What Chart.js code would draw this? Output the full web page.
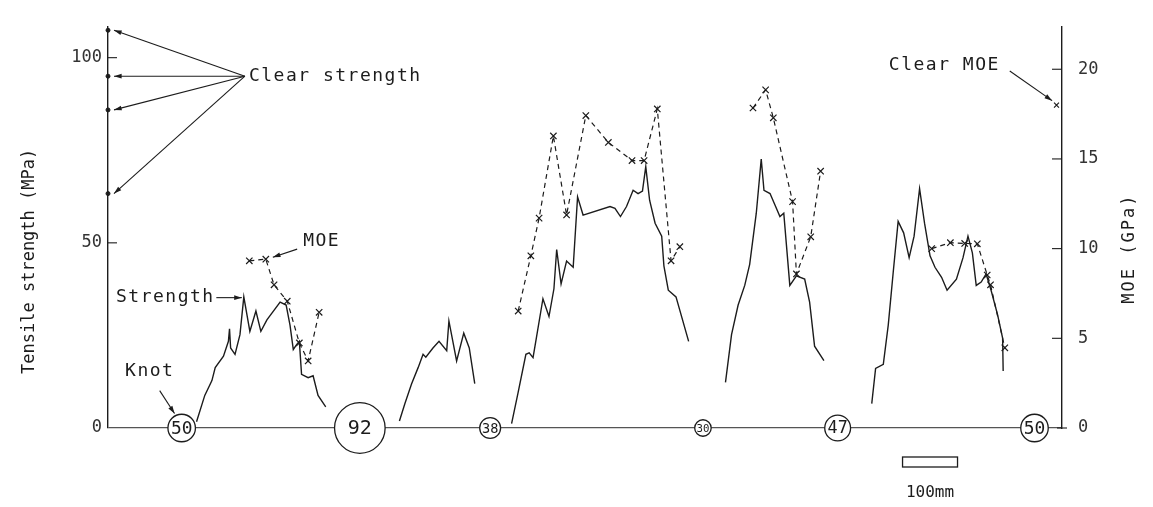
<!DOCTYPE html>
<html lang="en">
<head>
<meta charset="utf-8">
<title>Tensile strength and MOE along a board</title>
<script src="https://cdn.jsdelivr.net/npm/chart.js@4.4.1/dist/chart.umd.min.js"></script>
<style>
  html, body { margin: 0; padding: 0; background: #fff; }
  #wrap { width: 1153px; height: 507px; }
</style>
</head>
<body>
<div id="wrap"><canvas id="chart"></canvas></div>
<script>
// position along the board (mm) with tensile strength (MPa)
const strength1 = [[161,1.7],[176,8.8],[189,12.8],[195,16.3],[210,19.4],[219,23.4],[221,26.8],[223,21.6],[231,19.9],[240,25.2],[247,35.4],[258,26.1],[269,31.6],[278,26.1],[289,29.2],[313,34.0],[324,33.2],[331,27.8],[337,21.2],[343,22.5],[348,23.4],[352,14.5],[364,13.6],[373,14.1],[382,8.8],[396,5.7]];
const strength2 = [[530,1.9],[540,6.6],[552,11.9],[564,16.3],[573,19.9],[578,19.1],[591,21.6],[602,23.4],[616,20.9],[620,28.9],[634,18.1],[647,25.6],[657,21.6],[667,12.0]];
const strength3 = [[734,1.2],[746,9.7],[760,19.9],[766,20.3],[773,19.0],[779,24.3],[791,34.9],[802,30.1],[811,37.6],[816,48.2],[824,38.9],[834,45.1],[846,43.4],[854,62.4],[864,57.5],[913,59.8],[922,59.3],[932,57.1],[943,59.8],[955,64.2],[964,63.3],[972,64.0],[978,70.6],[985,61.5],[995,55.3],[1007,51.8],[1011,43.8],[1019,37.2],[1033,35.4],[1056,23.4]];
const strength4 = [[1123,12.3],[1134,25.2],[1146,33.2],[1158,38.5],[1167,44.2],[1179,58.0],[1188,72.6],[1193,64.2],[1204,63.3],[1213,60.2],[1222,57.1],[1229,58.0],[1234,49.1],[1240,38.5],[1252,41.1],[1267,40.2],[1276,34.0],[1285,22.1],[1302,18.2]];
const strength5 = [[1389,6.6],[1396,16.1],[1410,17.2],[1419,27.8],[1428,42.0],[1437,55.8],[1447,52.7],[1457,46.0],[1466,51.8],[1476,64.6],[1485,55.3],[1495,46.5],[1504,43.4],[1516,40.7],[1526,37.2],[1543,40.2],[1555,46.0],[1564,51.8],[1572,47.3],[1579,38.5],[1588,39.4],[1597,41.6],[1606,37.2],[1618,30.5],[1627,24.3],[1628,15.4]];

// position (mm) with MOE (GPa)
const moe1 = [[257,9.32],[287,9.41],[302,7.98],[326,7.07],[348,4.74],[364,3.74],[384,6.45]];
const moe3 = [[746,6.52],[769,9.60],[784,11.70],[810,16.28],[834,11.88],[869,17.42],[910,15.92],[953,14.91],[975,14.91],[999,17.79],[1024,9.32],[1040,10.11]];
const moe4 = [[1173,17.84],[1196,18.85],[1210,17.29],[1245,12.62],[1252,8.59],[1278,10.66],[1296,14.32]];
const moe5 = [[1498,10.0],[1532,10.33],[1558,10.29],[1581,10.27],[1599,8.53],[1605,7.98],[1631,4.47]];

const clearStrength = [107.4, 95.0, 85.9, 63.3];
const clearMOE = 18.0;

// knots: centre position (mm) and diameter (mm)
const knotPos = [134, 458, 695, 1082, 1327, 1685];
const knotSize = [50, 92, 38, 30, 47, 50];

const leftTicks = [0, 50, 100];
const rightTicks = [0, 5, 10, 15, 20];

const INK = '#1c1c1c';
const MONO = '"DejaVu Sans Mono", monospace';

const toXY = arr => arr.map(p => ({x: p[0], y: p[1]}));

function strengthSet(arr) {
  return { data: toXY(arr), yAxisID: 'y', borderColor: INK, borderWidth: 1.4, pointRadius: 0, tension: 0, fill: false };
}
function moeSet(arr) {
  return { data: toXY(arr), yAxisID: 'y1', borderColor: INK, borderWidth: 1.2, borderDash: [5, 4],
           pointStyle: 'crossRot', pointRadius: 4.5, pointBorderWidth: 1.2, pointBorderColor: INK, tension: 0, fill: false };
}

function knotRadius(ctx) {
  const sx = ctx.chart.scales.x;
  const d = knotSize[ctx.dataIndex] || 0;
  return Math.abs(sx.getPixelForValue(d / 2) - sx.getPixelForValue(0));
}

function arrow(c, x1, y1, x2, y2) {
  c.beginPath();
  c.moveTo(x1, y1);
  c.lineTo(x2, y2);
  c.stroke();
  const a = Math.atan2(y2 - y1, x2 - x1);
  c.beginPath();
  c.moveTo(x2, y2);
  c.lineTo(x2 - 8 * Math.cos(a - 0.3), y2 - 8 * Math.sin(a - 0.3));
  c.lineTo(x2 - 8 * Math.cos(a + 0.3), y2 - 8 * Math.sin(a + 0.3));
  c.closePath();
  c.fill();
}

const notes = {
  id: 'notes',
  afterDatasetsDraw(chart) {
    const c = chart.ctx;
    const xs = chart.scales.x, ys = chart.scales.y;
    c.save();
    c.fillStyle = INK;
    c.textAlign = 'center';
    c.textBaseline = 'middle';
    knotPos.forEach((p, i) => {
      const r = Math.abs(xs.getPixelForValue(knotSize[i] / 2) - xs.getPixelForValue(0));
      c.font = Math.min(20, r * 1.3).toFixed(1) + 'px ' + MONO;
      c.fillText(String(knotSize[i]), xs.getPixelForValue(p), ys.getPixelForValue(0) + 1);
    });
    c.restore();
  },
  afterDraw(chart) {
    const c = chart.ctx;
    const area = chart.chartArea;
    const X = v => chart.scales.x.getPixelForValue(v);
    const Y = v => chart.scales.y.getPixelForValue(v);
    const Y1 = v => chart.scales.y1.getPixelForValue(v);
    c.save();
    c.strokeStyle = INK;
    c.fillStyle = INK;
    c.lineWidth = 1.1;

    // inward tick marks
    leftTicks.forEach(v => { if (v) { c.beginPath(); c.moveTo(area.left, Y(v)); c.lineTo(area.left + 9, Y(v)); c.stroke(); } });
    rightTicks.forEach(v => { c.beginPath(); c.moveTo(area.right - (v ? 10 : 5), Y1(v)); c.lineTo(area.right + (v ? 0 : 5), Y1(v)); c.stroke(); });

    c.font = '18px ' + MONO;
    c.letterSpacing = '1.5px';
    c.textBaseline = 'middle';

    // clear strength
    const cx = X(249), cy = Y(95);
    c.textAlign = 'left';
    c.fillText('Clear strength', cx + 4, cy);
    clearStrength.forEach(v => arrow(c, cx, cy, X(0) + 6, Y(v)));

    // MOE
    c.fillText('MOE', X(355), Y(50.5));
    arrow(c, X(344), Y(48.3), X(287) + 7, Y1(9.41) - 2);

    // Strength
    c.textAlign = 'right';
    c.fillText('Strength', X(194), Y(35.4));
    arrow(c, X(197), Y(35.2), X(247) - 2, Y(35.2));

    // Knot
    c.textAlign = 'left';
    c.fillText('Knot', X(31), Y(15.2));
    arrow(c, X(94), Y(10.1), X(121), Y(3.9));

    // Clear MOE
    c.textAlign = 'right';
    c.fillText('Clear MOE', X(1622), Y1(20.2));
    arrow(c, X(1640), Y1(19.9), X(1717), Y1(18.25));

    // scale bar
    const b0 = X(1445), b1 = X(1545);
    c.lineWidth = 1.3;
    c.strokeRect(b0, area.bottom + 29, b1 - b0, 10);
    c.textAlign = 'center';
    c.font = '16px ' + MONO;
    c.letterSpacing = '0px';
    c.fillText('100mm', (b0 + b1) / 2, area.bottom + 65);

    // axis titles
    c.font = '17px ' + MONO;
    c.save();
    c.translate(30, Y(45));
    c.rotate(-Math.PI / 2);
    c.fillText('Tensile strength (MPa)', 0, 0);
    c.restore();
    c.save();
    c.letterSpacing = '2px';
    c.translate(1130, Y1(10));
    c.rotate(-Math.PI / 2);
    c.fillText('MOE (GPa)', 0, 0);
    c.restore();
    c.restore();
  }
};

new Chart(document.getElementById('chart'), {
  type: 'line',
  data: {
    datasets: [
      { data: knotPos.map(p => ({x: p, y: 0})), yAxisID: 'y', showLine: false, clip: false,
        pointStyle: 'circle', pointRadius: knotRadius, pointBackgroundColor: '#fff',
        pointBorderColor: INK, pointBorderWidth: 1.3 },
      { data: clearStrength.map(v => ({x: 0, y: v})), yAxisID: 'y', showLine: false, clip: false,
        pointRadius: 2, pointBackgroundColor: INK, pointBorderColor: INK },
      { data: [{x: 1725, y: clearMOE}], yAxisID: 'y1', showLine: false, clip: false,
        pointStyle: 'crossRot', pointRadius: 3.5, pointBorderColor: INK, pointBorderWidth: 1.2 },
      strengthSet(strength1), strengthSet(strength2), strengthSet(strength3), strengthSet(strength4), strengthSet(strength5),
      moeSet(moe1), moeSet(moe3), moeSet(moe4), moeSet(moe5)
    ]
  },
  options: {
    responsive: true,
    maintainAspectRatio: false,
    animation: false,
    layout: { padding: { top: 20, bottom: 79, left: 0, right: 0 } },
    plugins: { legend: { display: false }, tooltip: { enabled: false } },
    scales: {
      x: { type: 'linear', min: 0, max: 1735, display: false },
      y: {
        position: 'left', min: 0, max: 108.5,
        afterFit: s => { s.width = 108; },
        afterBuildTicks: s => { s.ticks = leftTicks.map(v => ({value: v})); },
        grid: { drawTicks: false, lineWidth: 1.2, color: ctx => (ctx.tick && ctx.tick.value === 0) ? '#555' : 'rgba(0,0,0,0)' },
        border: { display: true, color: INK, width: 1.4 },
        ticks: { padding: 6, color: '#333', font: { family: MONO, size: 17 } }
      },
      y1: {
        position: 'right', min: 0, max: 22.4,
        afterFit: s => { s.width = 91; },
        afterBuildTicks: s => { s.ticks = rightTicks.map(v => ({value: v})); },
        grid: { display: false, drawTicks: false },
        border: { display: true, color: INK, width: 1.4 },
        ticks: { padding: 16, color: '#333', font: { family: MONO, size: 17 } }
      }
    }
  },
  plugins: [notes]
});
</script>
</body>
</html>
